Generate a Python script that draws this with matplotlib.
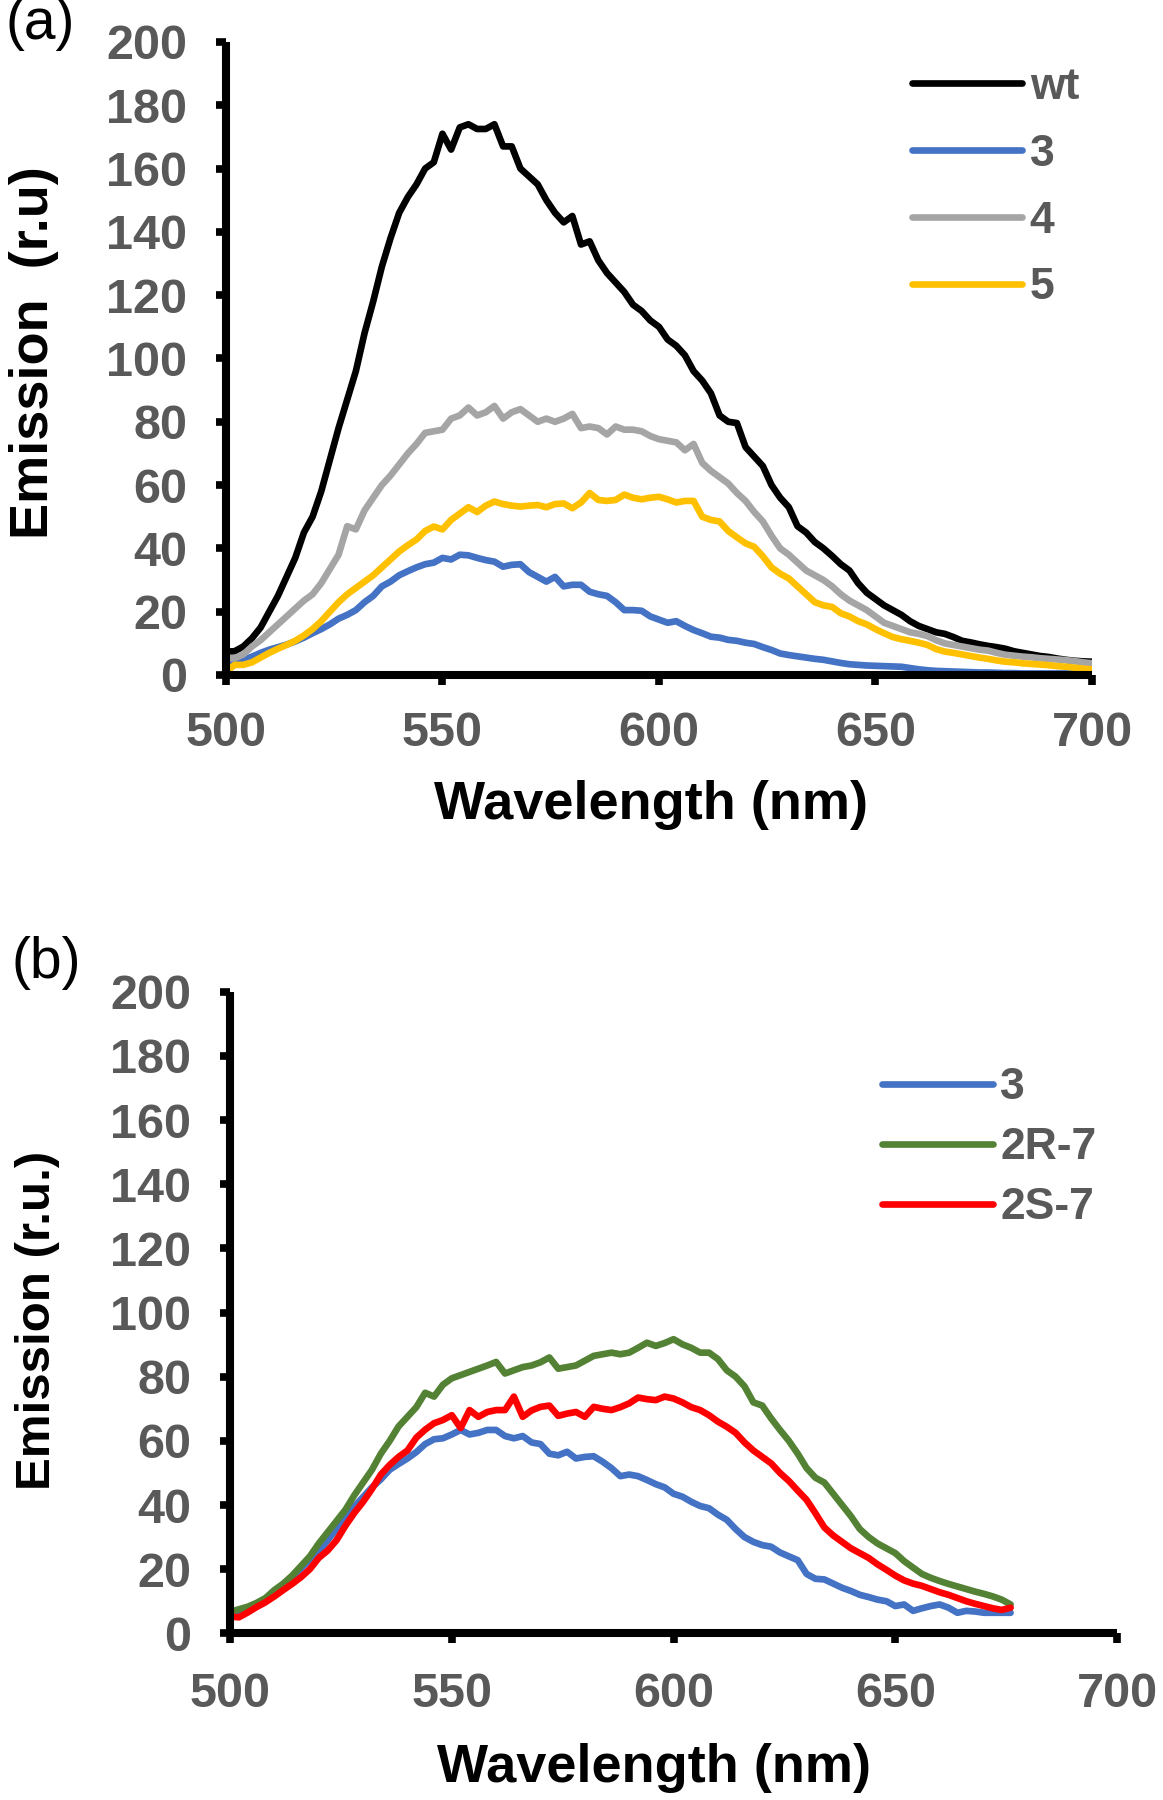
# %% Emission spectra, panel (a) and (b)
import numpy as np
import matplotlib
matplotlib.use('Agg')
import matplotlib.pyplot as plt

plt.rcParams['font.family'] = ['Liberation Sans', 'DejaVu Sans']

# %% data (2 nm steps)
wl_a = np.arange(500, 701, 2)   # 500 ... 700 nm
wt = [7.4, 7.5, 9, 11.6, 15, 20, 25, 31, 37, 45, 50, 58, 68, 78, 87, 96, 108, 118, 129, 138, 146, 151, 155, 160, 162,
      171, 166, 173, 174, 172.5, 172.5, 174, 167, 167, 160, 157.5, 155, 150, 146, 143, 145, 136, 137, 131, 127, 124, 121, 117, 115, 112,
      110, 106, 104, 101, 96, 93, 89, 82, 80, 79.6, 72, 69, 66, 60, 56, 53, 47, 45, 42, 40, 37.6, 35, 33, 29, 26,
      24, 22, 20.5, 19, 17, 15.5, 14.5, 13.5, 13, 12, 10.8, 10.3, 9.7, 9.2, 8.8, 8.3, 7.5, 7, 6.5, 6, 5.7, 5.2, 4.8, 4.5, 4.3,
      4.2]
s3_a = [3.7, 4.2, 4.8, 5.8, 7, 8, 8.8, 9.6, 10.6, 11.8, 13.2, 14.5, 16, 17.8, 19, 20.5, 23, 25, 28, 29.5, 31.5, 32.8, 34, 35, 35.5,
        37, 36.5, 38, 37.8, 37, 36.3, 35.8, 34.2, 34.8, 35, 32.5, 31, 29.5, 31, 28, 28.5, 28.5, 26.3, 25.5, 25, 23, 20.5, 20.5, 20.3, 18.5,
        17.5, 16.5, 17, 15.5, 14.2, 13.2, 12.1, 11.8, 11.1, 10.8, 10.2, 9.8, 8.8, 7.9, 6.8, 6.3, 5.9, 5.5, 5.1, 4.8, 4.3, 3.8, 3.4, 3.2, 3,
        2.9, 2.8, 2.7, 2.6, 2.2, 1.8, 1.5, 1.3, 1.2, 1.1, 1, 0.9, 0.8, 0.8, 0.7, 0.6, 0.6, 0.5, 0.5, 0.5, 0.5, 0.5, 0.5, 0.5, 0.5,
        0.5]
s4_a = [5.3, 5.3, 6.5, 9, 11, 13.5, 16, 18.5, 21, 23.5, 25.5, 29, 33.5, 38, 47, 46, 52, 56, 60, 63, 66.5, 70, 73, 76.5, 77,
        77.5, 81, 82, 84.5, 82, 83, 85, 81, 83, 84, 82, 80, 81, 80, 81, 82.5, 78, 78.5, 78, 76, 78.5, 77.5, 77.5, 77, 75.5,
        74.5, 74, 73.5, 71, 73, 67, 64.5, 62.5, 60.5, 57.5, 55, 51.5, 48.5, 44, 40, 38, 35.5, 33, 31.5, 30, 28, 25.5, 23.5, 22, 20.5,
        18.5, 16.5, 15.5, 14.5, 13.5, 13, 12.3, 11, 10, 9.5, 9, 8.5, 8, 7.7, 7, 6.4, 6.1, 5.8, 5.6, 5.3, 5.1, 4.9, 4.7, 4.4, 4,
        3.7]
s5_a = [1, 3.2, 3.2, 4, 5.5, 7, 8.3, 9.5, 10.8, 12.5, 14.5, 17, 20, 23, 25.5, 27.5, 29.5, 31.5, 34, 36.5, 39, 41, 42.8, 45.5, 46.9,
        46, 49, 51, 53, 51.5, 53.5, 54.8, 54, 53.5, 53.2, 53.5, 53.7, 53, 54, 54.2, 52.7, 54.5, 57.5, 55.3, 55, 55.3, 57, 56, 55.5, 56,
        56.3, 55.5, 54.5, 55, 55, 50, 49, 48.5, 45.5, 43.5, 41.6, 40.5, 37.5, 34, 32, 30.5, 28, 25.5, 23, 22, 21.5, 19.5, 18.5, 17, 16,
        14.5, 13.2, 12, 11.3, 10.8, 10.2, 9.5, 8.2, 7.4, 7, 6.5, 6, 5.5, 5.1, 4.6, 4.2, 4, 3.7, 3.5, 3.3, 3.1, 2.8, 2.6, 2.3, 2,
        1.8]

wl_b = np.arange(500, 677, 2)   # 500 ... 676 nm
s3_b = [5.7, 6.5, 7.3, 8.3, 9.8, 12, 14.5, 17.3, 20.2, 23, 25.5, 29, 32.5, 36, 39.5, 42.5, 45.5, 48, 51, 52.8, 54.5, 56.5, 59, 60.5, 60.8,
        62, 63.4, 62, 62.5, 63.4, 63.4, 61.5, 60.8, 61.5, 59.5, 59, 56, 55.5, 56.6, 54.5, 55, 55.2, 53.5, 51.5, 49, 49.5, 49, 47.8, 46.5, 45.5,
        43.5, 42.6, 41, 39.7, 39, 37, 35.4, 32.5, 30, 28.5, 27.5, 27, 25.2, 24, 22.8, 18.5, 17, 16.8, 15.5, 14.2, 13.2, 12, 11.3, 10.5, 10,
        8.5, 9, 7, 7.8, 8.5, 9, 8, 6.4, 7, 6.8, 6.4, 6.4, 6.4, 6.4]
r7_b = [6.7, 7.5, 8.3, 9.5, 11, 13.5, 15.5, 18, 21, 24, 28, 31.5, 35, 38.5, 43, 47, 51, 56, 60, 64.5, 67.5, 70.5, 75, 73.8, 77.5,
        79.5, 80.5, 81.5, 82.5, 83.5, 84.6, 81, 82, 83, 83.5, 84.5, 86, 82.5, 83, 83.5, 85, 86.5, 87, 87.5, 87, 87.5, 89, 90.6, 89.6, 90.5,
        91.7, 90.1, 89, 87.5, 87.5, 85.5, 82, 80, 77, 72, 71, 67, 63.4, 60, 56, 51.5, 48.5, 47, 43.5, 40, 36.5, 32.5, 30, 28, 26.5,
        25, 22.5, 20.5, 18.5, 17.3, 16.3, 15.4, 14.6, 13.8, 13, 12.3, 11.5, 10.5, 9]
s7_b = [5.2, 5, 6.5, 8.2, 9.7, 11.5, 13.5, 15.4, 17.5, 20, 23.5, 25.8, 29, 33.5, 37.5, 41, 45, 49.5, 52.5, 55, 57, 61, 63.5, 65.5, 66.5,
        68, 64, 69.6, 67.5, 69, 69.6, 69.6, 73.8, 67.5, 69.5, 70.6, 71, 67.8, 68.5, 69, 67.5, 70.6, 70, 69.6, 70.5, 71.7, 73.5, 73, 72.7, 73.8,
        73.2, 72, 70.5, 69.6, 68, 66, 64.4, 62.5, 59.5, 57, 55, 53, 50, 47.5, 44.5, 41.6, 37.4, 33, 30.5, 28.5, 26.5, 25, 23.5, 21.5, 19.8,
        18, 16.5, 15.5, 14.8, 13.8, 12.8, 12, 11, 10, 9.2, 8.5, 7.8, 7.3, 8]

y_ticks = np.arange(0, 201, 20)
x_ticks = [500, 550, 600, 650, 700]

tick_grey = '#595959'
lw = 4.8


def style_axes(ax, xpad):
    ax.set_xlim(500, 700)
    ax.set_ylim(0, 200)
    ax.set_xticks(x_ticks)
    ax.set_yticks(y_ticks)
    for s in ['top', 'right']:
        ax.spines[s].set_visible(False)
    for s in ['left', 'bottom']:
        ax.spines[s].set_linewidth(5.8)
        ax.spines[s].set_capstyle('butt')
    ax.tick_params(axis='both', direction='out', length=7, width=5.5,
                   labelsize=35, labelcolor=tick_grey, color='k')
    ax.tick_params(axis='y', pad=21)
    ax.tick_params(axis='x', pad=xpad)
    for lab in ax.get_xticklabels() + ax.get_yticklabels():
        lab.set_fontweight('bold')


fig = plt.figure(figsize=(11.63, 18), dpi=100)

# %% panel (a)
ax1 = fig.add_axes([0.1943, 0.625, 0.7446, 0.3517])
ax1.plot(wl_a, wt, color='#000000', lw=lw, label='wt', solid_joinstyle='round', solid_capstyle='round')
ax1.plot(wl_a, s3_a, color='#4472C4', lw=lw, label='3', solid_joinstyle='round', solid_capstyle='round')
ax1.plot(wl_a, s4_a, color='#A5A5A5', lw=lw, label='4', solid_joinstyle='round', solid_capstyle='round')
ax1.plot(wl_a, s5_a, color='#FFC000', lw=lw, label='5', solid_joinstyle='round', solid_capstyle='round')
style_axes(ax1, 19)
leg1 = ax1.legend(loc='upper left', bbox_to_anchor=(911.6 / 1163, 1 - 67 / 1800),
                  bbox_transform=fig.transFigure, frameon=False, borderpad=0, borderaxespad=0,
                  handlelength=2.49, handletextpad=0.17, labelspacing=0.58,
                  prop={'size': 32, 'weight': 'bold'}, labelcolor=tick_grey)

fig.text(651 / 1163, 1 - 805 / 1800, 'Wavelength (nm)', ha='center', va='center',
         fontsize=39, fontweight='bold', color='k')
fig.text(34 / 1163, 1 - 353 / 1800, 'Emission  (r.u)', ha='center', va='center',
         rotation=90, fontsize=39, fontweight='bold', color='k')
fig.text(40 / 1163, 1 - 24 / 1800, '(a)', ha='center', va='center', fontsize=41, color='k')

# %% panel (b)
ax2 = fig.add_axes([0.1978, 0.0926, 0.7627, 0.3564])
ax2.plot(wl_b, s3_b, color='#4472C4', lw=lw, label='3', solid_joinstyle='round', solid_capstyle='round')
ax2.plot(wl_b, r7_b, color='#548235', lw=lw, label='2R-7', solid_joinstyle='round', solid_capstyle='round')
ax2.plot(wl_b, s7_b, color='#FF0000', lw=lw, label='2S-7', solid_joinstyle='round', solid_capstyle='round')
style_axes(ax2, 21)
leg2 = ax2.legend(loc='upper left', bbox_to_anchor=(882 / 1163, 1 - (1092.7 - 25.5) / 1800),
                  bbox_transform=fig.transFigure, frameon=False, borderpad=0, borderaxespad=0,
                  handlelength=2.49, handletextpad=0.17, labelspacing=0.43,
                  prop={'size': 32, 'weight': 'bold'}, labelcolor=tick_grey)

fig.text(654 / 1163, 1 - 1768 / 1800, 'Wavelength (nm)', ha='center', va='center',
         fontsize=39, fontweight='bold', color='k')
fig.text(37 / 1163, 1 - 1320 / 1800, 'Emission (r.u.)', ha='center', va='center',
         rotation=90, fontsize=35.5, fontweight='bold', color='k')
fig.text(46 / 1163, 1 - 963 / 1800, '(b)', ha='center', va='center', fontsize=41, color='k')

fig.savefig('out.png', dpi=100)
